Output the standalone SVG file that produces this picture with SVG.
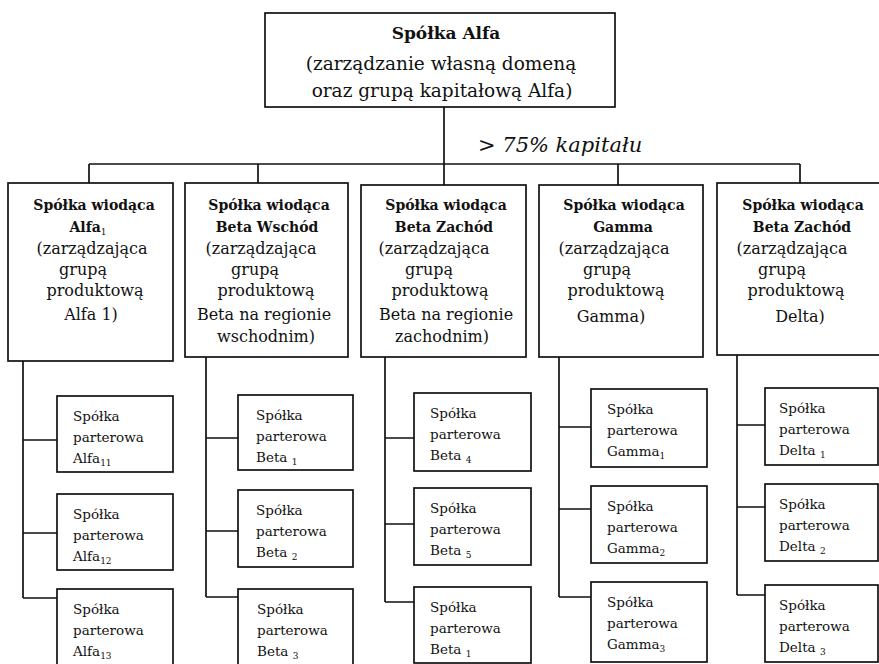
<svg xmlns="http://www.w3.org/2000/svg" width="879" height="664" viewBox="0 0 879 664">
<style>
  .box { fill: #ffffff; stroke: #111111; stroke-width: 1.7; }
  .conn { fill: none; stroke: #111111; stroke-width: 1.7; }
  text { font-family: "DejaVu Serif", "Liberation Serif", serif; fill: #111111; }
  .top { font-size: 18.5px; text-anchor: middle; }
  .topb { font-size: 17px; font-weight: bold; text-anchor: middle; }
  .lbl { font-size: 21px; font-style: italic; }
  .mb { font-size: 14px; font-weight: bold; text-anchor: middle; }
  .mr { font-size: 16px; text-anchor: middle; }
  .sm { font-size: 13.5px; }
  .sub { font-size: 9px; }
</style>
<rect width="879" height="664" fill="#ffffff"/>

<g id="connectors">
  <path class="conn" d="M444 107 V185"/>
  <path class="conn" d="M89 164 H800"/>
  <path class="conn" d="M89 164 V183 M258 164 V183 M618 164 V185 M800 164 V183"/>
  <path class="conn" d="M23 361 V598 M23 440 H57 M23 533 H57 M23 598 H57"/>
  <path class="conn" d="M206 357 V597 M206 438 H238 M206 531 H238 M206 597 H238"/>
  <path class="conn" d="M385 357 V602 M385 438 H414 M385 524 H414 M385 602 H414"/>
  <path class="conn" d="M559 357 V597 M559 427 H591 M559 509 H591 M559 597 H591"/>
  <path class="conn" d="M737 355 V595 M737 425 H765 M737 507 H765 M737 595 H765"/>
</g>
<text class="lbl" x="478" y="152">&gt; 75% kapitału</text>

<g id="alfa">
  <rect class="box" x="265" y="13" width="350" height="94"/>
  <text class="topb" x="446" y="39">Spółka Alfa</text>
  <text class="top" x="441" y="70">(zarządzanie własną domeną</text>
  <text class="top" x="442" y="97">oraz grupą kapitałową Alfa)</text>
</g>

<g id="wiodaca-alfa1">
  <rect class="box" x="8" y="183" width="165" height="178"/>
  <text class="mb" x="94" y="210">Spółka wiodąca</text>
  <text class="mb" x="88" y="232">Alfa<tspan class="sub" font-weight="normal" dy="3">1</tspan></text>
  <text class="mr" x="92" y="254">(zarządzająca</text>
  <text class="mr" x="83" y="275">grupą</text>
  <text class="mr" x="95" y="296">produktową</text>
  <text class="mr" x="91" y="320">Alfa 1)</text>
</g>

<g id="wiodaca-beta-wschod">
  <rect class="box" x="185" y="183" width="163" height="174"/>
  <text class="mb" x="269" y="210">Spółka wiodąca</text>
  <text class="mb" x="267" y="232">Beta Wschód</text>
  <text class="mr" x="261" y="254">(zarządzająca</text>
  <text class="mr" x="255" y="275">grupą</text>
  <text class="mr" x="266" y="296">produktową</text>
  <text class="mr" x="264" y="320">Beta na  regionie</text>
  <text class="mr" x="266" y="342">wschodnim)</text>
</g>

<g id="wiodaca-beta-zachod">
  <rect class="box" x="361" y="185" width="165" height="172"/>
  <text class="mb" x="446" y="210">Spółka wiodąca</text>
  <text class="mb" x="444" y="232">Beta Zachód</text>
  <text class="mr" x="434" y="254">(zarządzająca</text>
  <text class="mr" x="429" y="275">grupą</text>
  <text class="mr" x="440" y="296">produktową</text>
  <text class="mr" x="446" y="320">Beta na regionie</text>
  <text class="mr" x="442" y="342">zachodnim)</text>
</g>

<g id="wiodaca-gamma">
  <rect class="box" x="539" y="185" width="164" height="172"/>
  <text class="mb" x="624" y="210">Spółka wiodąca</text>
  <text class="mb" x="623" y="232">Gamma</text>
  <text class="mr" x="614" y="254">(zarządzająca</text>
  <text class="mr" x="607" y="275">grupą</text>
  <text class="mr" x="616" y="296">produktową</text>
  <text class="mr" x="611" y="322">Gamma)</text>
</g>

<g id="wiodaca-delta">
  <rect class="box" x="717" y="183" width="165" height="172"/>
  <text class="mb" x="803" y="210">Spółka wiodąca</text>
  <text class="mb" x="802" y="232">Beta Zachód</text>
  <text class="mr" x="792" y="254">(zarządzająca</text>
  <text class="mr" x="782" y="275">grupą</text>
  <text class="mr" x="796" y="296">produktową</text>
  <text class="mr" x="800" y="322">Delta)</text>
</g>

<g id="alfa11">
  <rect class="box" x="57" y="396" width="116" height="76"/>
  <text class="sm" x="73" y="421">Spółka</text>
  <text class="sm" x="73" y="442">parterowa</text>
  <text class="sm" x="73" y="463">Alfa<tspan class="sub" dy="3">11</tspan></text>
</g>
<g id="alfa12">
  <rect class="box" x="57" y="494" width="116" height="76"/>
  <text class="sm" x="73" y="519">Spółka</text>
  <text class="sm" x="73" y="540">parterowa</text>
  <text class="sm" x="73" y="561">Alfa<tspan class="sub" dy="3">12</tspan></text>
</g>
<g id="alfa13">
  <rect class="box" x="57" y="589" width="116" height="82"/>
  <text class="sm" x="73" y="614">Spółka</text>
  <text class="sm" x="73" y="635">parterowa</text>
  <text class="sm" x="73" y="656">Alfa<tspan class="sub" dy="3">13</tspan></text>
</g>

<g id="beta1-w">
  <rect class="box" x="238" y="395" width="115" height="75"/>
  <text class="sm" x="256" y="420">Spółka</text>
  <text class="sm" x="256" y="441">parterowa</text>
  <text class="sm" x="256" y="462">Beta <tspan class="sub" dy="3">1</tspan></text>
</g>
<g id="beta2-w">
  <rect class="box" x="238" y="490" width="115" height="77"/>
  <text class="sm" x="256" y="515">Spółka</text>
  <text class="sm" x="256" y="536">parterowa</text>
  <text class="sm" x="256" y="557">Beta <tspan class="sub" dy="3">2</tspan></text>
</g>
<g id="beta3-w">
  <rect class="box" x="238" y="589" width="115" height="82"/>
  <text class="sm" x="257" y="614">Spółka</text>
  <text class="sm" x="257" y="635">parterowa</text>
  <text class="sm" x="257" y="656">Beta <tspan class="sub" dy="3">3</tspan></text>
</g>

<g id="beta4-z">
  <rect class="box" x="414" y="393" width="117" height="78"/>
  <text class="sm" x="430" y="418">Spółka</text>
  <text class="sm" x="430" y="439">parterowa</text>
  <text class="sm" x="430" y="460">Beta <tspan class="sub" dy="3">4</tspan></text>
</g>
<g id="beta5-z">
  <rect class="box" x="414" y="488" width="117" height="77"/>
  <text class="sm" x="430" y="513">Spółka</text>
  <text class="sm" x="430" y="534">parterowa</text>
  <text class="sm" x="430" y="555">Beta <tspan class="sub" dy="3">5</tspan></text>
</g>
<g id="beta1-z">
  <rect class="box" x="414" y="587" width="117" height="76"/>
  <text class="sm" x="430" y="612">Spółka</text>
  <text class="sm" x="430" y="633">parterowa</text>
  <text class="sm" x="430" y="654">Beta <tspan class="sub" dy="3">1</tspan></text>
</g>

<g id="gamma1">
  <rect class="box" x="591" y="389" width="116" height="78"/>
  <text class="sm" x="607" y="414">Spółka</text>
  <text class="sm" x="607" y="435">parterowa</text>
  <text class="sm" x="607" y="456">Gamma<tspan class="sub" dy="3">1</tspan></text>
</g>
<g id="gamma2">
  <rect class="box" x="591" y="486" width="116" height="77"/>
  <text class="sm" x="607" y="511">Spółka</text>
  <text class="sm" x="607" y="532">parterowa</text>
  <text class="sm" x="607" y="553">Gamma<tspan class="sub" dy="3">2</tspan></text>
</g>
<g id="gamma3">
  <rect class="box" x="591" y="582" width="116" height="80"/>
  <text class="sm" x="607" y="607">Spółka</text>
  <text class="sm" x="607" y="628">parterowa</text>
  <text class="sm" x="607" y="649">Gamma<tspan class="sub" dy="3">3</tspan></text>
</g>

<g id="delta1">
  <rect class="box" x="765" y="388" width="113" height="77"/>
  <text class="sm" x="779" y="413">Spółka</text>
  <text class="sm" x="779" y="434">parterowa</text>
  <text class="sm" x="779" y="455">Delta <tspan class="sub" dy="3">1</tspan></text>
</g>
<g id="delta2">
  <rect class="box" x="765" y="484" width="113" height="77"/>
  <text class="sm" x="779" y="509">Spółka</text>
  <text class="sm" x="779" y="530">parterowa</text>
  <text class="sm" x="779" y="551">Delta <tspan class="sub" dy="3">2</tspan></text>
</g>
<g id="delta3">
  <rect class="box" x="765" y="585" width="113" height="77"/>
  <text class="sm" x="779" y="610">Spółka</text>
  <text class="sm" x="779" y="631">parterowa</text>
  <text class="sm" x="779" y="652">Delta <tspan class="sub" dy="3">3</tspan></text>
</g>
</svg>
